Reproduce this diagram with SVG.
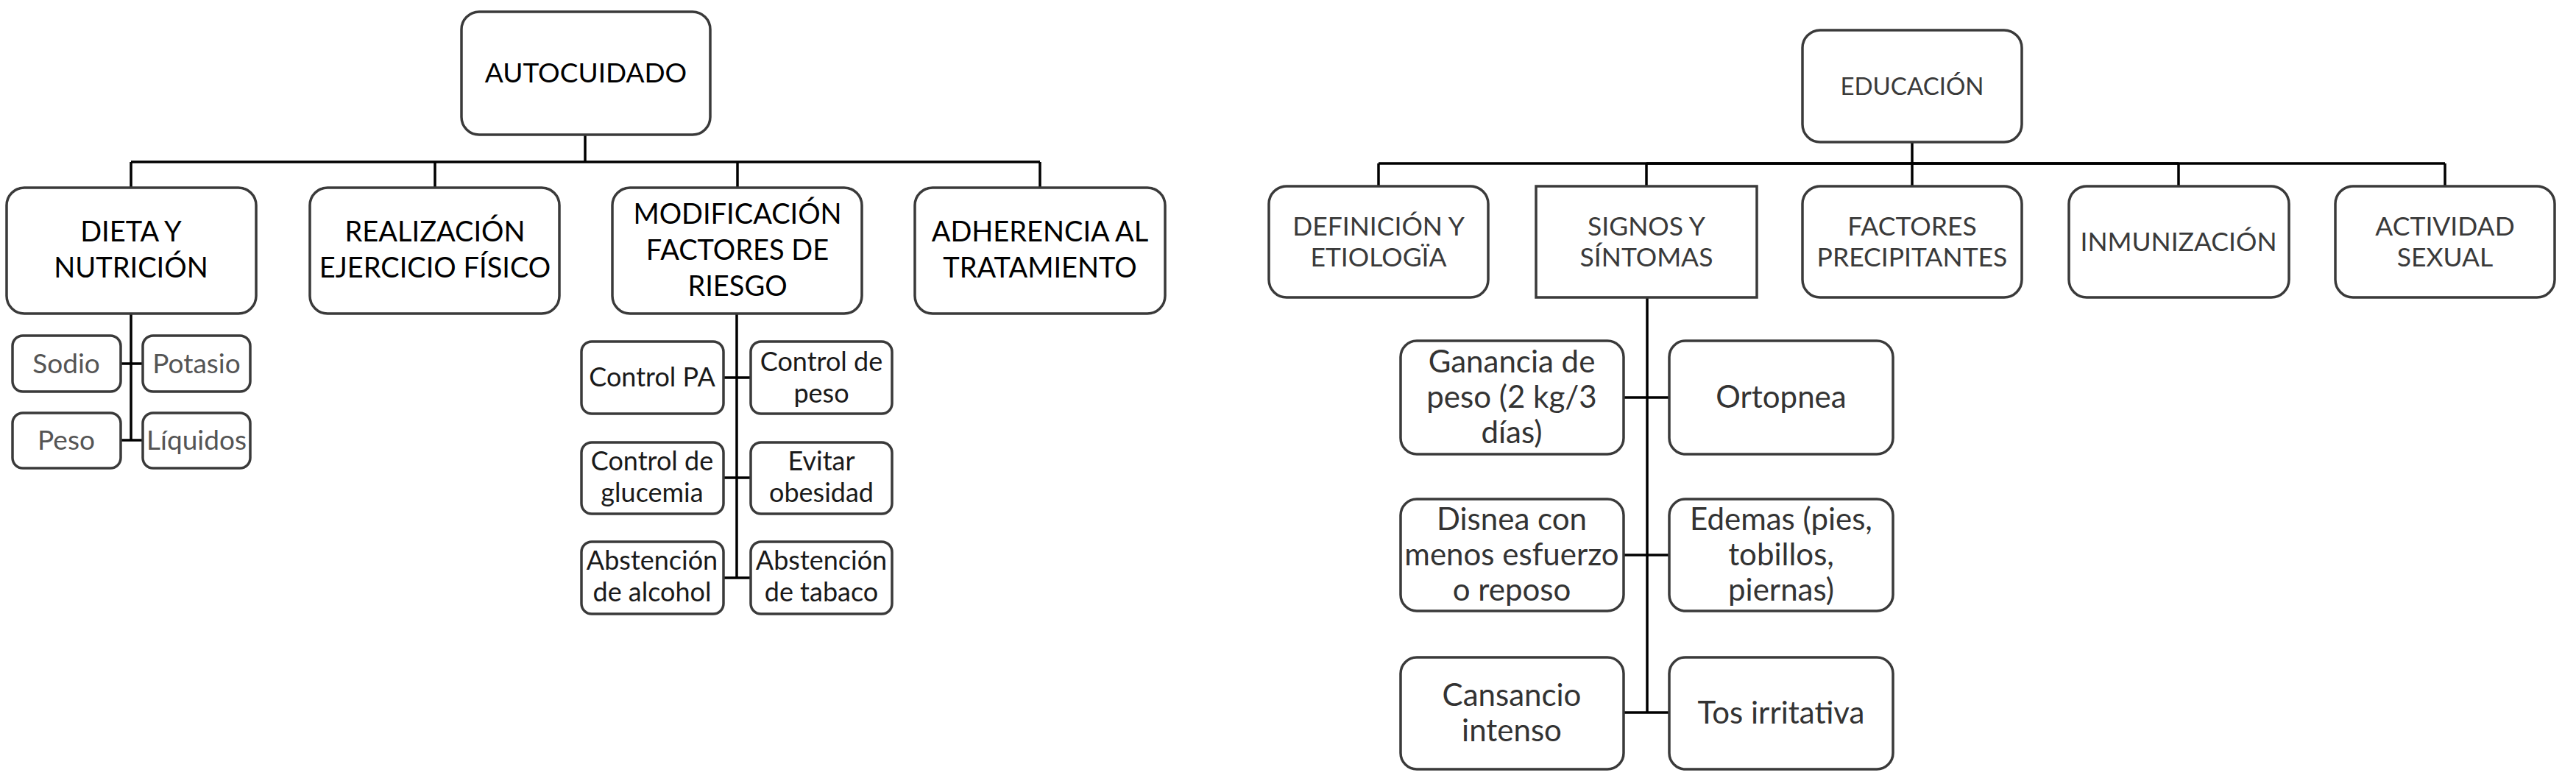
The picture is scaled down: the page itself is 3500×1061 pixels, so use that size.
<svg xmlns="http://www.w3.org/2000/svg" width="3500" height="1061" viewBox="0 0 3500 1061">
<style>
.bx{fill:#fff;stroke:#3a3a3a;stroke-width:3.5}
.cn{stroke:#000;stroke-width:3.5;fill:none}
text{font-family:Lato,"Liberation Sans",sans-serif;text-anchor:middle}
.l0{font-size:37px;fill:#000}
.l2{font-size:38px;fill:#000}
.r0{font-size:33px;fill:#3a3a3a}
.r2{font-size:35.5px;fill:#3a3a3a}
.s1{font-size:37px;fill:#555}
.s2{font-size:36px;fill:#1a1a1a}
.s3{font-size:42px;fill:#333}
</style>
<rect width="3500" height="1061" fill="#fff"/>
<g id="connectors">
<path class="cn" d="M795 183V220M178 220H1413M178 220V255M591 220V255M1002 220V255M1413 220V255"/>
<path class="cn" d="M178 426V598M164 494H194M164 598H194"/>
<path class="cn" d="M1001 426V785M983 513H1020M983 649H1020M983 785H1020"/>
<path class="cn" d="M2598 193V222M1873 222H3322M1873 222V253M2237 222V253M2598 222V253M2960 222V253M3322 222V253"/>
<path class="cn" stroke-width="5.5" d="M2237 222H2960"/>
<path class="cn" d="M2238 404V968M2206 540H2268M2206 754H2268M2206 968H2268"/>
</g>
<g id="autocuidado"><rect class="bx" x="627" y="16" width="338" height="167" rx="24"/><text class="l0" x="796" y="112">AUTOCUIDADO</text></g>
<g id="dieta"><rect class="bx" x="9" y="255" width="339" height="171" rx="24"/><text class="l2" x="178" y="328">DIETA Y</text><text class="l2" x="178" y="377">NUTRICIÓN</text></g>
<g id="ejercicio"><rect class="bx" x="421" y="255" width="339" height="171" rx="24"/><text class="l2" x="591" y="328">REALIZACIÓN</text><text class="l2" x="591" y="377">EJERCICIO FÍSICO</text></g>
<g id="modificacion"><rect class="bx" x="832" y="255" width="339" height="171" rx="24"/><text class="l2" x="1002" y="304">MODIFICACIÓN</text><text class="l2" x="1002" y="353">FACTORES DE</text><text class="l2" x="1002" y="402">RIESGO</text></g>
<g id="adherencia"><rect class="bx" x="1243" y="255" width="340" height="171" rx="24"/><text class="l2" x="1413" y="328">ADHERENCIA AL</text><text class="l2" x="1413" y="377">TRATAMIENTO</text></g>
<g id="sodio"><rect class="bx" x="17" y="456" width="147" height="76" rx="14"/><text class="s1" x="90" y="507">Sodio</text></g>
<g id="potasio"><rect class="bx" x="194" y="456" width="146" height="76" rx="14"/><text class="s1" x="267" y="507">Potasio</text></g>
<g id="peso"><rect class="bx" x="17" y="561" width="147" height="75" rx="14"/><text class="s1" x="90" y="611">Peso</text></g>
<g id="liquidos"><rect class="bx" x="194" y="561" width="146" height="75" rx="14"/><text class="s1" x="267" y="611">Líquidos</text></g>
<g id="controlpa"><rect class="bx" x="790" y="464" width="193" height="98" rx="14"/><text class="s2" x="886" y="525">Control PA</text></g>
<g id="controlpeso"><rect class="bx" x="1020" y="464" width="192" height="98" rx="14"/><text class="s2" x="1116" y="504">Control de</text><text class="s2" x="1116" y="547">peso</text></g>
<g id="glucemia"><rect class="bx" x="790" y="601" width="193" height="97" rx="14"/><text class="s2" x="886" y="639">Control de</text><text class="s2" x="886" y="682">glucemia</text></g>
<g id="obesidad"><rect class="bx" x="1020" y="601" width="192" height="97" rx="14"/><text class="s2" x="1116" y="639">Evitar</text><text class="s2" x="1116" y="682">obesidad</text></g>
<g id="alcohol"><rect class="bx" x="790" y="736" width="193" height="98" rx="14"/><text class="s2" x="886" y="774">Abstención</text><text class="s2" x="886" y="817">de alcohol</text></g>
<g id="tabaco"><rect class="bx" x="1020" y="736" width="192" height="98" rx="14"/><text class="s2" x="1116" y="774">Abstención</text><text class="s2" x="1116" y="817">de tabaco</text></g>
<g id="educacion"><rect class="bx" x="2449" y="41" width="298" height="152" rx="24"/><text class="r0" x="2598" y="129">EDUCACIÓN</text></g>
<g id="definicion"><rect class="bx" x="1724" y="253" width="298" height="151" rx="24"/><text class="r2" x="1873" y="320">DEFINICIÓN Y</text><text class="r2" x="1873" y="362">ETIOLOGÏA</text></g>
<g id="signos"><rect class="bx" x="2087" y="253" width="300" height="151"/><text class="r2" x="2237" y="320">SIGNOS Y</text><text class="r2" x="2237" y="362">SÍNTOMAS</text></g>
<g id="factores"><rect class="bx" x="2449" y="253" width="298" height="151" rx="24"/><text class="r2" x="2598" y="320">FACTORES</text><text class="r2" x="2598" y="362">PRECIPITANTES</text></g>
<g id="inmunizacion"><rect class="bx" x="2811" y="253" width="299" height="151" rx="24"/><text class="r2" x="2960" y="341">INMUNIZACIÓN</text></g>
<g id="actividad"><rect class="bx" x="3173" y="253" width="298" height="151" rx="24"/><text class="r2" x="3322" y="320">ACTIVIDAD</text><text class="r2" x="3322" y="362">SEXUAL</text></g>
<g id="ganancia"><rect class="bx" x="1903" y="463" width="303" height="154" rx="22"/><text class="s3" x="2054" y="506">Ganancia de</text><text class="s3" x="2054" y="554">peso (2 kg/3</text><text class="s3" x="2054" y="602">días)</text></g>
<g id="ortopnea"><rect class="bx" x="2268" y="463" width="304" height="154" rx="22"/><text class="s3" x="2420" y="554">Ortopnea</text></g>
<g id="disnea"><rect class="bx" x="1903" y="678" width="303" height="152" rx="22"/><text class="s3" x="2054" y="720">Disnea con</text><text class="s3" x="2054" y="768">menos esfuerzo</text><text class="s3" x="2054" y="816">o reposo</text></g>
<g id="edemas"><rect class="bx" x="2268" y="678" width="304" height="152" rx="22"/><text class="s3" x="2420" y="720">Edemas (pies,</text><text class="s3" x="2420" y="768">tobillos,</text><text class="s3" x="2420" y="816">piernas)</text></g>
<g id="cansancio"><rect class="bx" x="1903" y="893" width="303" height="152" rx="22"/><text class="s3" x="2054" y="959">Cansancio</text><text class="s3" x="2054" y="1007">intenso</text></g>
<g id="tos"><rect class="bx" x="2268" y="893" width="304" height="152" rx="22"/><text class="s3" x="2420" y="983">Tos irritativa</text></g>
</svg>
